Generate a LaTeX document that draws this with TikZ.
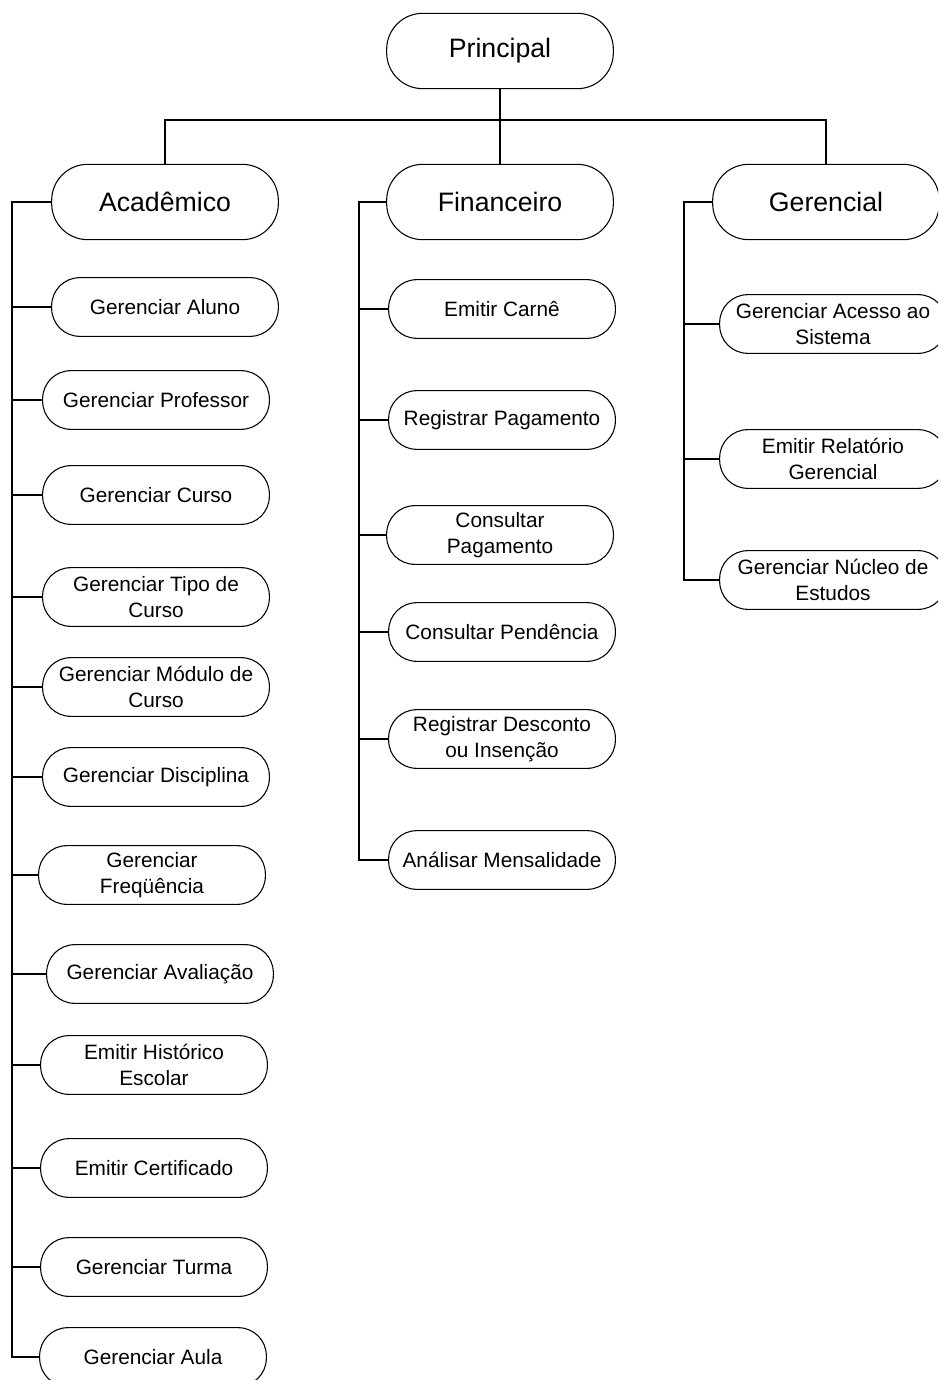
\documentclass[tikz,border=0pt]{standalone}
\usepackage{fontspec}
\setmainfont{Liberation Sans}
\begin{document}
\begin{tikzpicture}[x=0.75pt,y=-0.75pt,line width=0.8pt,
  big/.style={draw,rectangle,rounded corners=27pt,minimum width=170pt,minimum height=56.5pt,inner sep=0pt,font=\fontsize{20}{24}\selectfont},
  item/.style={draw,rectangle,rounded corners=21pt,minimum width=170pt,minimum height=44pt,inner sep=0pt,align=center,font=\fontsize{15.6}{19.5}\selectfont}]
\useasboundingbox (0,0) rectangle (938,1380);
\clip (0,0) rectangle (938,1380);
% top levels
\node[big] (prin) at (500,51) {Principal};
\node[big] (acad) at (165,202) {Acadêmico};
\node[big] (fin) at (500,202) {Financeiro};
\node[big] (ger) at (826,202) {Gerencial};
\coordinate (busL) at (165,120);
\coordinate (busR) at (826,120);
\draw (prin.south) -- (fin.north);
\draw (acad.north) -- (busL) -- (busR) -- (ger.north);
% Academico children
\node[item] (a1) at (165,307) {Gerenciar Aluno};
\node[item] (a2) at (156,400) {Gerenciar Professor};
\node[item] (a3) at (156,495) {Gerenciar Curso};
\node[item] (a4) at (156,597) {Gerenciar Tipo de\\Curso};
\node[item] (a5) at (156,687) {Gerenciar Módulo de\\Curso};
\node[item] (a6) at (156,777) {Gerenciar Disciplina};
\node[item] (a7) at (152,875) {Gerenciar\\Freqüência};
\node[item] (a8) at (160,974) {Gerenciar Avaliação};
\node[item] (a9) at (154,1065) {Emitir Histórico\\Escolar};
\node[item] (a10) at (154,1168) {Emitir Certificado};
\node[item] (a11) at (154,1267) {Gerenciar Turma};
\node[item] (a12) at (153,1357) {Gerenciar Aula};
\coordinate (sa) at (12,202);
\draw (acad.west) -- (sa) |- (a12.west);
\foreach \n in {a1,a2,a3,a4,a5,a6,a7,a8,a9,a10,a11}{\draw (sa) |- (\n.west);}
% Financeiro children
\node[item] (f1) at (502,309) {Emitir Carnê};
\node[item] (f2) at (502,420) {Registrar Pagamento};
\node[item] (f3) at (500,535) {Consultar\\Pagamento};
\node[item] (f4) at (502,632) {Consultar Pendência};
\node[item] (f5) at (502,739) {Registrar Desconto\\ou Insenção};
\node[item] (f6) at (502,860) {Análisar Mensalidade};
\coordinate (sf) at (359,202);
\draw (fin.west) -- (sf) |- (f6.west);
\foreach \n in {f1,f2,f3,f4,f5}{\draw (sf) |- (\n.west);}
% Gerencial children
\node[item] (g1) at (833,324) {Gerenciar Acesso ao\\Sistema};
\node[item] (g2) at (833,459) {Emitir Relatório\\Gerencial};
\node[item] (g3) at (833,580) {Gerenciar Núcleo de\\Estudos};
\coordinate (sg) at (684,202);
\draw (ger.west) -- (sg) |- (g3.west);
\foreach \n in {g1,g2}{\draw (sg) |- (\n.west);}
\end{tikzpicture}
\end{document}
